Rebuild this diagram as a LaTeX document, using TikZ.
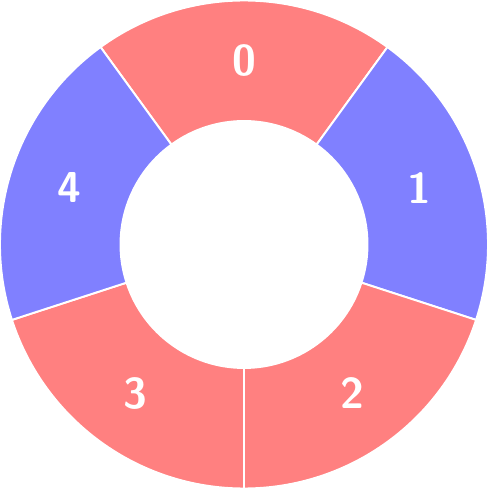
\documentclass[tikz,border=0pt]{standalone}
\usepackage{tikz}
\tikzset{
  ring/.style={x=0.02cm, y=0.02cm},
  segred/.style={fill=red!50, draw=white, line width=1.1pt, line join=round},
  segblue/.style={fill=blue!50, draw=white, line width=1.1pt, line join=round},
  seglabel/.style={text=white, inner sep=0pt,
    font=\fontsize{24.6}{29}\selectfont\sffamily\bfseries}
}
\begin{document}
\begin{tikzpicture}[ring]
\useasboundingbox (-244,-244.5) rectangle (244,244.5);

% five ring segments, clockwise from the top
\foreach \i/\a/\b/\seg in {0/126/54/segred, 1/54/-18/segblue, 2/-18/-90/segred,
                          3/-90/-162/segred, 4/-162/-234/segblue}{
  \pgfmathsetmacro{\m}{(\a+\b)/2}
  \path[\seg] (\a:123.5) -- (\a:244) arc[start angle=\a, end angle=\b, radius=244]
    -- (\b:123.5) arc[start angle=\b, end angle=\a, radius=123.5] -- cycle;
  \node[seglabel] (lab\i) at (\m:184) {\i};
}

\end{tikzpicture}
\end{document}
